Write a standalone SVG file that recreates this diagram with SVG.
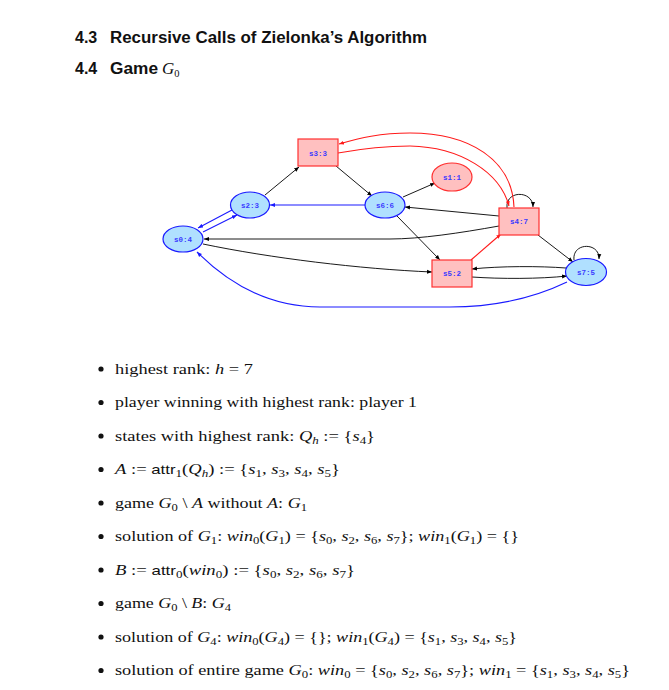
<svg xmlns="http://www.w3.org/2000/svg" width="669" height="690" viewBox="0 0 669 690">
<style>
.h{font-family:"Liberation Sans",Arial,sans-serif;font-weight:bold;font-size:16px;fill:#111}
.t{font-family:"Liberation Serif","Times New Roman",serif;font-size:15px;fill:#111}
.i{font-style:italic}
.sf{font-family:"Liberation Sans",Arial,sans-serif;font-size:13.5px}
.sub{font-size:10.5px}
.lbl{font-family:"Liberation Mono","Courier New",monospace;font-size:7.5px;font-weight:bold;fill:#3a3aff;text-anchor:middle}
.sq{fill:#ffc0c0;stroke:#ff3030;stroke-width:1.2}
.el{fill:#b0e0ff;stroke:#1a1aff;stroke-width:1.2}
.elr{fill:#ffc0c0;stroke:#ff3030;stroke-width:1.2}
.ek{fill:none;stroke:#000;stroke-width:0.9;marker-end:url(#ak)}
.eb{fill:none;stroke:#1a1aff;stroke-width:1.1;marker-end:url(#ab)}
.er{fill:none;stroke:#ff1a1a;stroke-width:1.1;marker-end:url(#ar)}
</style>
<defs>
<marker id="ak" viewBox="0 0 10 10" refX="10" refY="5" markerWidth="5" markerHeight="5" orient="auto" markerUnits="userSpaceOnUse"><path d="M0,1 L10,5 L0,9 z" fill="#000"/></marker>
<marker id="ab" viewBox="0 0 10 10" refX="10" refY="5" markerWidth="5" markerHeight="5" orient="auto" markerUnits="userSpaceOnUse"><path d="M0,1 L10,5 L0,9 z" fill="#1a1aff"/></marker>
<marker id="ar" viewBox="0 0 10 10" refX="10" refY="5" markerWidth="5" markerHeight="5" orient="auto" markerUnits="userSpaceOnUse"><path d="M0,1 L10,5 L0,9 z" fill="#ff1a1a"/></marker>
</defs>
<rect width="669" height="690" fill="#fff"/>
<g id="headings">
<text class="h" x="75" y="43">4.3</text>
<text class="h" x="110" y="43" textLength="317" lengthAdjust="spacingAndGlyphs">Recursive Calls of Zielonka’s Algorithm</text>
<text class="h" x="75" y="74">4.4</text>
<text class="h" x="110" y="74" textLength="48" lengthAdjust="spacingAndGlyphs">Game</text>
<text class="t" x="162" y="74"><tspan class="i" style="font-size:17px">G</tspan><tspan class="sub" dy="3">0</tspan></text>
</g>
<g id="connectors">
<path class="ek" d="M265,195 L299,167"/>
<path class="ek" d="M336,166 L372,196"/>
<path class="eb" d="M365,205 L270,205"/>
<path class="eb" d="M232,210 L198,228"/>
<path class="eb" d="M203,232 L237,215"/>
<path class="ek" d="M499,226 C 460,233 420,239 390,239 L 204,239"/>
<path class="ek" d="M203,244 C 270,258 360,269 432,272"/>
<path class="eb" d="M567,282 C 540,295 500,307 450,307 L 320,307 C 270,307 230,285 197,252"/>
<path class="ek" d="M403,197 L435,183"/>
<path class="ek" d="M499,216 L405,207"/>
<path class="ek" d="M397,216 L440,260"/>
<path class="er" d="M471,260 L501,234"/>
<path class="ek" d="M538,235 L573,262"/>
<path class="ek" d="M566,268 C 540,266 500,266 472,269"/>
<path class="ek" d="M472,277 C 500,279 540,279 567,276"/>
<path class="ek" d="M507,208 C 505,190 533,190 533,207"/>
<path class="ek" d="M574,260 C 572,242 600,242 599,259"/>
<path class="er" d="M514,207 C 512,160 470,133 410,133 C 380,133 360,138 339,144"/>
<path class="er" d="M338,153 C 360,149 385,146 410,146 C 460,147 500,172 509,206"/>
</g>
<g id="s3"><rect class="sq" x="298" y="139" width="40" height="27"/><text class="lbl" x="318" y="155.5">s3:3</text></g>
<g id="s2"><ellipse class="el" cx="250" cy="205" rx="19.5" ry="13"/><text class="lbl" x="250" y="207.5">s2:3</text></g>
<g id="s0"><ellipse class="el" cx="183" cy="239" rx="20" ry="13"/><text class="lbl" x="183" y="241.5">s0:4</text></g>
<g id="s6"><ellipse class="el" cx="385" cy="205" rx="20" ry="13"/><text class="lbl" x="385" y="207.5">s6:6</text></g>
<g id="s1"><ellipse class="elr" cx="452" cy="177" rx="20" ry="14"/><text class="lbl" x="452" y="179.5">s1:1</text></g>
<g id="s4"><rect class="sq" x="499" y="208" width="40" height="27"/><text class="lbl" x="519" y="223.5">s4:7</text></g>
<g id="s5"><rect class="sq" x="432" y="260" width="40" height="27"/><text class="lbl" x="452" y="275.5">s5:2</text></g>
<g id="s7"><ellipse class="el" cx="586" cy="272" rx="20.5" ry="13.5"/><text class="lbl" x="586" y="274.5">s7:5</text></g>
<g id="bullets" fill="#111">
<circle cx="101" cy="369" r="2.6"/><circle cx="101" cy="402.5" r="2.6"/><circle cx="101" cy="436" r="2.6"/><circle cx="101" cy="469.5" r="2.6"/><circle cx="101" cy="503" r="2.6"/><circle cx="101" cy="536.5" r="2.6"/><circle cx="101" cy="570" r="2.6"/><circle cx="101" cy="603.5" r="2.6"/><circle cx="101" cy="637" r="2.6"/><circle cx="101" cy="670.5" r="2.6"/>
</g>
<g id="text">
<text class="t" x="115" y="373.5" textLength="138" lengthAdjust="spacingAndGlyphs">highest rank:  <tspan class="i">h</tspan> = 7</text>
<text class="t" x="115" y="407" textLength="302" lengthAdjust="spacingAndGlyphs">player winning with highest rank: player 1</text>
<text class="t" x="115" y="440.5" textLength="260" lengthAdjust="spacingAndGlyphs">states with highest rank:  <tspan class="i">Q</tspan><tspan class="sub i" dy="3">h</tspan><tspan dy="-3"> := {</tspan><tspan class="i">s</tspan><tspan class="sub" dy="3">4</tspan><tspan dy="-3">}</tspan></text>
<text class="t" x="115" y="474" textLength="225" lengthAdjust="spacingAndGlyphs"><tspan class="i">A</tspan> := <tspan class="sf">attr</tspan><tspan class="sub" dy="3">1</tspan><tspan dy="-3">(</tspan><tspan class="i">Q</tspan><tspan class="sub i" dy="3">h</tspan><tspan dy="-3">) := {</tspan><tspan class="i">s</tspan><tspan class="sub" dy="3">1</tspan><tspan dy="-3">, </tspan><tspan class="i">s</tspan><tspan class="sub" dy="3">3</tspan><tspan dy="-3">, </tspan><tspan class="i">s</tspan><tspan class="sub" dy="3">4</tspan><tspan dy="-3">, </tspan><tspan class="i">s</tspan><tspan class="sub" dy="3">5</tspan><tspan dy="-3">}</tspan></text>
<text class="t" x="115" y="507.5" textLength="192" lengthAdjust="spacingAndGlyphs">game <tspan class="i">G</tspan><tspan class="sub" dy="3">0</tspan><tspan dy="-3"> \ </tspan><tspan class="i">A</tspan> without <tspan class="i">A</tspan>:  <tspan class="i">G</tspan><tspan class="sub" dy="3">1</tspan></text>
<text class="t" x="115" y="541" textLength="404" lengthAdjust="spacingAndGlyphs">solution of <tspan class="i">G</tspan><tspan class="sub" dy="3">1</tspan><tspan dy="-3">:  </tspan><tspan class="i">win</tspan><tspan class="sub" dy="3">0</tspan><tspan dy="-3">(</tspan><tspan class="i">G</tspan><tspan class="sub" dy="3">1</tspan><tspan dy="-3">) = {</tspan><tspan class="i">s</tspan><tspan class="sub" dy="3">0</tspan><tspan dy="-3">, </tspan><tspan class="i">s</tspan><tspan class="sub" dy="3">2</tspan><tspan dy="-3">, </tspan><tspan class="i">s</tspan><tspan class="sub" dy="3">6</tspan><tspan dy="-3">, </tspan><tspan class="i">s</tspan><tspan class="sub" dy="3">7</tspan><tspan dy="-3">};  </tspan><tspan class="i">win</tspan><tspan class="sub" dy="3">1</tspan><tspan dy="-3">(</tspan><tspan class="i">G</tspan><tspan class="sub" dy="3">1</tspan><tspan dy="-3">) = {}</tspan></text>
<text class="t" x="115" y="574.5" textLength="240" lengthAdjust="spacingAndGlyphs"><tspan class="i">B</tspan> := <tspan class="sf">attr</tspan><tspan class="sub" dy="3">0</tspan><tspan dy="-3">(</tspan><tspan class="i">win</tspan><tspan class="sub" dy="3">0</tspan><tspan dy="-3">) := {</tspan><tspan class="i">s</tspan><tspan class="sub" dy="3">0</tspan><tspan dy="-3">, </tspan><tspan class="i">s</tspan><tspan class="sub" dy="3">2</tspan><tspan dy="-3">, </tspan><tspan class="i">s</tspan><tspan class="sub" dy="3">6</tspan><tspan dy="-3">, </tspan><tspan class="i">s</tspan><tspan class="sub" dy="3">7</tspan><tspan dy="-3">}</tspan></text>
<text class="t" x="115" y="608" textLength="116" lengthAdjust="spacingAndGlyphs">game <tspan class="i">G</tspan><tspan class="sub" dy="3">0</tspan><tspan dy="-3"> \ </tspan><tspan class="i">B</tspan>:  <tspan class="i">G</tspan><tspan class="sub" dy="3">4</tspan></text>
<text class="t" x="115" y="641.5" textLength="402" lengthAdjust="spacingAndGlyphs">solution of <tspan class="i">G</tspan><tspan class="sub" dy="3">4</tspan><tspan dy="-3">:  </tspan><tspan class="i">win</tspan><tspan class="sub" dy="3">0</tspan><tspan dy="-3">(</tspan><tspan class="i">G</tspan><tspan class="sub" dy="3">4</tspan><tspan dy="-3">) = {};  </tspan><tspan class="i">win</tspan><tspan class="sub" dy="3">1</tspan><tspan dy="-3">(</tspan><tspan class="i">G</tspan><tspan class="sub" dy="3">4</tspan><tspan dy="-3">) = {</tspan><tspan class="i">s</tspan><tspan class="sub" dy="3">1</tspan><tspan dy="-3">, </tspan><tspan class="i">s</tspan><tspan class="sub" dy="3">3</tspan><tspan dy="-3">, </tspan><tspan class="i">s</tspan><tspan class="sub" dy="3">4</tspan><tspan dy="-3">, </tspan><tspan class="i">s</tspan><tspan class="sub" dy="3">5</tspan><tspan dy="-3">}</tspan></text>
<text class="t" x="115" y="675" textLength="515" lengthAdjust="spacingAndGlyphs">solution of entire game <tspan class="i">G</tspan><tspan class="sub" dy="3">0</tspan><tspan dy="-3">:  </tspan><tspan class="i">win</tspan><tspan class="sub" dy="3">0</tspan><tspan dy="-3"> = {</tspan><tspan class="i">s</tspan><tspan class="sub" dy="3">0</tspan><tspan dy="-3">, </tspan><tspan class="i">s</tspan><tspan class="sub" dy="3">2</tspan><tspan dy="-3">, </tspan><tspan class="i">s</tspan><tspan class="sub" dy="3">6</tspan><tspan dy="-3">, </tspan><tspan class="i">s</tspan><tspan class="sub" dy="3">7</tspan><tspan dy="-3">};  </tspan><tspan class="i">win</tspan><tspan class="sub" dy="3">1</tspan><tspan dy="-3"> = {</tspan><tspan class="i">s</tspan><tspan class="sub" dy="3">1</tspan><tspan dy="-3">, </tspan><tspan class="i">s</tspan><tspan class="sub" dy="3">3</tspan><tspan dy="-3">, </tspan><tspan class="i">s</tspan><tspan class="sub" dy="3">4</tspan><tspan dy="-3">, </tspan><tspan class="i">s</tspan><tspan class="sub" dy="3">5</tspan><tspan dy="-3">}</tspan></text>
</g>
</svg>
